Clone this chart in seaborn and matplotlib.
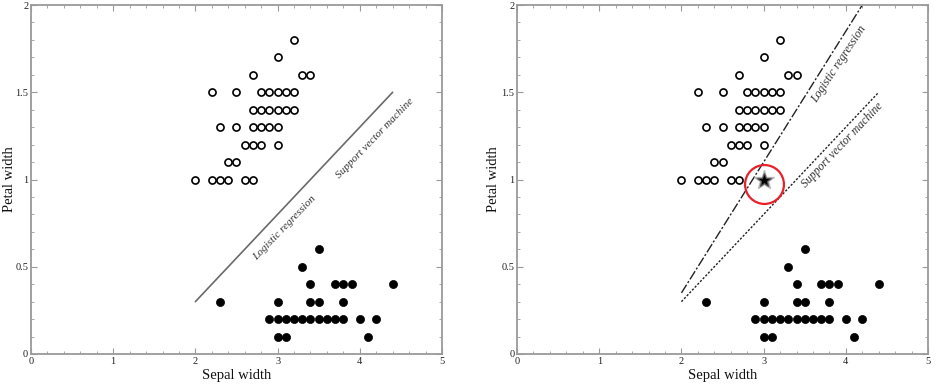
import matplotlib
matplotlib.use("Agg")
import matplotlib.pyplot as plt
import seaborn as sns
import pandas as pd
from matplotlib.ticker import MultipleLocator, FuncFormatter

# ---- data ----
open_sepal = [3.2, 3.0, 2.7, 3.3, 3.4,
              2.2, 2.5, 2.8, 2.9, 3.0, 3.1, 3.2,
              2.7, 2.8, 2.9, 3.0, 3.1, 3.2,
              2.3, 2.5, 2.7, 2.8, 2.9, 3.0,
              2.6, 2.7, 2.8, 3.0,
              2.4, 2.5,
              2.0, 2.2, 2.3, 2.4, 2.6, 2.7]
open_petal = [1.8, 1.7, 1.6, 1.6, 1.6,
              1.5, 1.5, 1.5, 1.5, 1.5, 1.5, 1.5,
              1.4, 1.4, 1.4, 1.4, 1.4, 1.4,
              1.3, 1.3, 1.3, 1.3, 1.3, 1.3,
              1.2, 1.2, 1.2, 1.2,
              1.1, 1.1,
              1.0, 1.0, 1.0, 1.0, 1.0, 1.0]
filled_sepal = [3.5, 3.3,
                3.4, 3.7, 3.8, 3.9, 4.4,
                2.3, 3.0, 3.4, 3.5, 3.8,
                2.9, 3.0, 3.1, 3.2, 3.3, 3.4, 3.5, 3.6, 3.7, 3.8, 4.0, 4.2,
                3.0, 3.1, 4.1]
filled_petal = [0.6, 0.5,
                0.4, 0.4, 0.4, 0.4, 0.4,
                0.3, 0.3, 0.3, 0.3, 0.3,
                0.2, 0.2, 0.2, 0.2, 0.2, 0.2, 0.2, 0.2, 0.2, 0.2, 0.2, 0.2,
                0.1, 0.1, 0.1]
# decision boundaries (endpoints)
svm_x = [2.0, 4.4]
svm_y = [0.3, 1.5]
lr_x = [2.0, 4.2]
lr_y = [0.35, 2.0]
new_point_x = [3.0]
new_point_y = [1.0]

x_ticks = [0, 1, 2, 3, 4, 5]
y_ticks = [0, 0.5, 1, 1.5, 2]

sns.set_theme(style="white")
plt.rcParams['font.family'] = ['Liberation Serif', 'DejaVu Serif']

fig = plt.figure(figsize=(9.36, 3.89), dpi=100)
axL = fig.add_axes([0.0331, 0.0900, 0.4391, 0.8971])
axR = fig.add_axes([0.5524, 0.0900, 0.4391, 0.8971])

df_open = pd.DataFrame({"x": open_sepal, "y": open_petal})
df_fill = pd.DataFrame({"x": filled_sepal, "y": filled_petal})

fmt = FuncFormatter(lambda v, p: f"{v:g}")

for ax in (axL, axR):
    sns.scatterplot(data=df_open, x="x", y="y", ax=ax, s=26,
                    facecolor="white", edgecolor="black", linewidth=1.2, zorder=3)
    sns.scatterplot(data=df_fill, x="x", y="y", ax=ax, s=34,
                    color="black", edgecolor="black", linewidth=0.5, zorder=3)
    ax.set_xlim(0, 5)
    ax.set_ylim(0, 2)
    ax.set_xticks(x_ticks)
    ax.set_yticks(y_ticks)
    ax.xaxis.set_minor_locator(MultipleLocator(0.2))
    ax.yaxis.set_minor_locator(MultipleLocator(0.1))
    ax.xaxis.set_major_formatter(fmt)
    ax.yaxis.set_major_formatter(fmt)
    ax.tick_params(which="both", direction="in", top=True, right=True,
                   bottom=True, left=True, color="#999999", labelsize=7.5,
                   labelcolor="#222222")
    ax.tick_params(which="major", length=4, width=0.8, pad=2)
    ax.tick_params(which="minor", length=2.2, width=0.6)
    for sp in ax.spines.values():
        sp.set_visible(True)
        sp.set_color("#9a9a9a")
        sp.set_linewidth(1.3)
    ax.set_xlabel("Sepal width", fontsize=10.5, color="#111111", labelpad=2)
    ax.set_ylabel("Petal width", fontsize=10.5, color="#111111")
    ax.set_facecolor("white")

axL.yaxis.set_label_coords(-0.036, 0.5)
axR.yaxis.set_label_coords(-0.041, 0.5)

# left panel: single boundary
sns.lineplot(x=svm_x, y=svm_y, ax=axL, color="#6a6a6a", linewidth=1.2, zorder=2)
axL.text(3.09, 0.72, "Logistic regression", rotation=46, style="italic",
         fontsize=8, color="#333333", ha="center", va="center", rotation_mode="anchor")
axL.text(4.18, 1.235, "Support vector machine", rotation=46, style="italic",
         fontsize=8, color="#333333", ha="center", va="center", rotation_mode="anchor")

# right panel: two boundaries
axR.plot(lr_x, lr_y, color="#222222", linewidth=1.0, linestyle=(0, (7, 1.5, 1.5, 1.5)), zorder=2)
axR.plot(svm_x, svm_y, color="#222222", linewidth=1.0, linestyle=(0, (1.6, 1.2)), zorder=2)
axR.text(3.92, 1.66, "Logistic regression", rotation=56.5, style="italic",
         fontsize=8.5, color="#333333", ha="center", va="center", rotation_mode="anchor")
axR.text(3.96, 1.20, "Support vector machine", rotation=46.5, style="italic",
         fontsize=8.5, color="#333333", ha="center", va="center", rotation_mode="anchor")

# new point (star) with red circle
axR.plot(new_point_x, new_point_y, marker="*", markersize=15, color="#aaaaaa",
         linestyle="none", zorder=4, alpha=0.8)
axR.plot(new_point_x, new_point_y, marker="*", markersize=10, color="black",
         markeredgecolor="#555555", markeredgewidth=0.8, linestyle="none", zorder=5)
axR.plot(new_point_x, [v - 0.025 for v in new_point_y], marker="o", markersize=28,
         markerfacecolor="none", markeredgecolor="#e8202a", markeredgewidth=1.6,
         linestyle="none", zorder=6)

fig.savefig("out.png", dpi=100, facecolor="white")
